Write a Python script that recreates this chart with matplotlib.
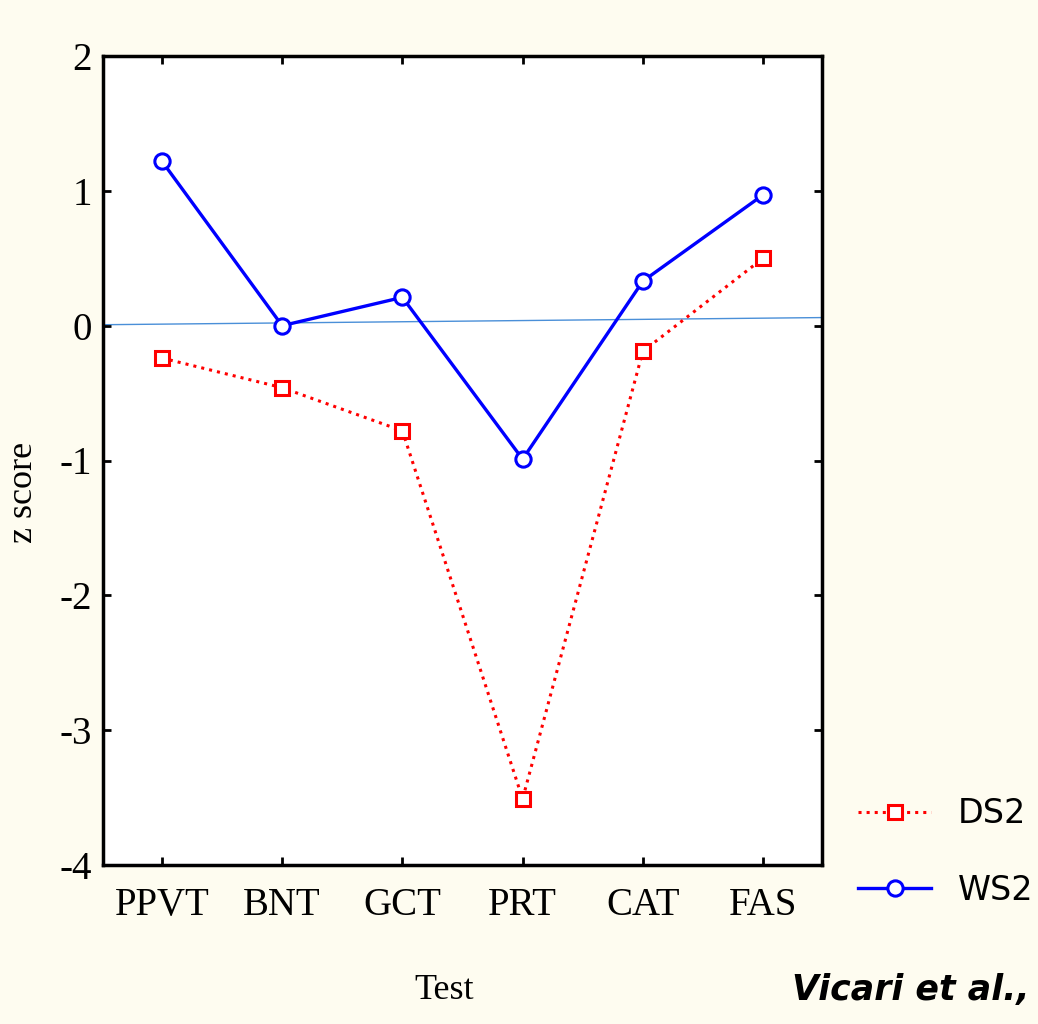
import matplotlib
matplotlib.use('Agg')

import matplotlib.pyplot as plt

# ------------------ DATA ------------------

tests = ['PPVT', 'BNT', 'GCT', 'PRT', 'CAT', 'FAS']
ds2 = [-0.24, -0.46, -0.78, -3.51, -0.19, 0.50]
ws2 = [1.22, 0.00, 0.21, -0.99, 0.33, 0.97]
y_ticks = [2, 1, 0, -1, -2, -3, -4]

# thin reference line (slightly tilted in the original)
ref_x = [-0.49, 5.49]
ref_y = [0.007, 0.06]

BG = '#fefcf0'

fig = plt.figure(figsize=(10.38, 10.24), dpi=100, facecolor=BG)
ax = fig.add_axes([103 / 1038, 1 - 865 / 1024, (822 - 103) / 1038, (865 - 56) / 1024])
ax.set_facecolor('white')

x = list(range(len(tests)))

ax.plot(ref_x, ref_y, color='#4a8fd8', lw=1.0, zorder=1)
ax.plot(x, ds2, color='red', ls=':', lw=2.2, marker='s', ms=10,
        mfc='white', mec='red', mew=2.2, label='DS2', zorder=3)
ax.plot(x, ws2, color='blue', ls='-', lw=2.4, marker='o', ms=11,
        mfc='white', mec='blue', mew=2.2, label='WS2', zorder=3)

ax.set_xlim(-0.49, 5.49)
ax.set_ylim(-4, 2)
ax.set_xticks(x)
ax.set_xticklabels(tests)
ax.set_yticks(y_ticks)
ax.set_yticklabels([str(v) for v in y_ticks])

for lab in ax.get_xticklabels() + ax.get_yticklabels():
    lab.set_family('Liberation Serif')
    lab.set_fontsize(28)

ax.tick_params(axis='x', pad=16)
ax.tick_params(axis='y', pad=8)
ax.tick_params(direction='in', length=6, width=2, top=True, right=True)
for s in ax.spines.values():
    s.set_linewidth(2.5)

ax.set_xlabel('Test', family='Liberation Serif', fontsize=26)
ax.xaxis.set_label_coords(0.475, -0.135)
ax.set_ylabel('z score', family='Liberation Serif', fontsize=26)
ax.yaxis.set_label_coords(-0.088, 0.46)

leg = fig.legend(loc='center left', bbox_to_anchor=(858 / 1038, 1 - 852 / 1024),
                 frameon=False, handlelength=2.2, handletextpad=0.8,
                 labelspacing=1.3, borderpad=0, borderaxespad=0,
                 prop={'family': 'DejaVu Sans', 'size': 24})

fig.text(1030 / 1038, 1 - 990 / 1024, 'Vicari et al.,', ha='right', va='center',
         family='DejaVu Sans', fontsize=25, fontweight='bold', style='italic')

plt.savefig('out.png', dpi=100, facecolor=BG)
plt.close()
